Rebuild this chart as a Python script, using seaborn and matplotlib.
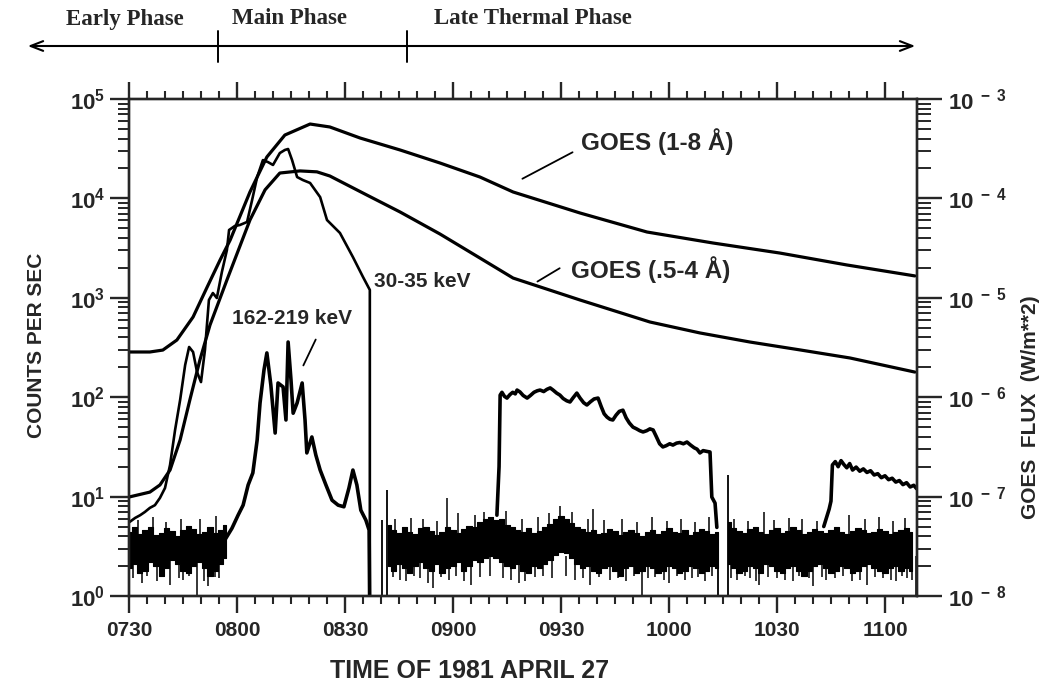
import numpy as np
import matplotlib
matplotlib.use("Agg")
import matplotlib.pyplot as plt
from matplotlib.lines import Line2D
from matplotlib.ticker import FixedLocator, FixedFormatter, NullFormatter
import seaborn as sns

# ---------------- data (time = minutes after 07:30 UT, 1981 April 27) ----------------
tick_minutes = [0, 30, 60, 90, 120, 150, 180, 210]
tick_labels = ["0730", "0800", "0830", "0900", "0930", "1000", "1030", "1100"]

# GOES 1-8 A flux (W/m^2)
goes_long_t = [0, 5.8, 9.4, 13.3, 17.8, 21.7, 25.3, 28.1, 33.6, 38.3, 43.3, 50.3, 55.8,
               64.2, 75.3, 86.4, 97.5, 106.7, 125.3, 143.9, 162.2, 180.8, 199.4, 218.3]
goes_long = [2.85e-6, 2.85e-6, 2.98e-6, 3.76e-6, 6.41e-6, 1.28e-5, 2.40e-5, 3.81e-5, 1.16e-4,
             2.61e-4, 4.34e-4, 5.6e-4, 5.23e-4, 4.05e-4, 3.07e-4, 2.27e-4, 1.64e-4, 1.16e-4,
             7.13e-5, 4.59e-5, 3.56e-5, 2.82e-5, 2.14e-5, 1.66e-5]

# GOES .5-4 A flux (W/m^2)
goes_short_t = [0, 5.8, 8.6, 11.4, 14.2, 16.9, 19.7, 22.5, 27.2, 33.6, 37.8, 41.9, 47.5, 52.2,
                55.8, 66.1, 75.3, 86.4, 97.5, 106.7, 125.3, 144.7, 158.6, 172.5, 186.4, 200.3, 218.3]
goes_short = [9.9e-8, 1.11e-7, 1.31e-7, 1.85e-7, 3.71e-7, 9.37e-7, 2.37e-6, 5.32e-6, 1.51e-5,
              6.06e-5, 1.22e-4, 1.80e-4, 1.89e-4, 1.85e-4, 1.68e-4, 1.08e-4, 7.30e-5, 4.38e-5,
              2.51e-5, 1.58e-5, 9.50e-6, 5.71e-6, 4.43e-6, 3.59e-6, 2.99e-6, 2.48e-6, 1.79e-6]

# 30-35 keV counts/s, impulsive phase (ends in a data gap)
hxr30_a_t = [0, 1.7, 3.1, 4.4, 5.8, 7.2, 8.6, 10.0, 11.4, 12.8, 14.2, 15.6, 16.7, 17.8, 18.9,
             20.0, 21.1, 22.2, 23.3, 24.4, 25.8, 27.2, 27.8, 29.4, 30.8, 32.8, 34.2, 35.6, 37.2,
             38.6, 40.0, 41.9, 43.3, 44.2, 45.3, 46.7, 48.3, 50.3, 53.1, 55.0, 58.6, 62.2, 65.0,
             66.9, 66.9]
hxr30_a = [5.5, 6.1, 6.5, 7.0, 7.7, 8.2, 9.7, 12.2, 20.8, 46.8, 93.7, 211, 320, 285, 179,
           142, 299, 950, 1117, 995, 1818, 3027, 4810, 5280, 5400, 5790, 9640, 16400, 24300,
           23200, 21700, 28600, 30700, 31400, 24300, 16400, 15300, 14300, 10300, 6060, 4490,
           2570, 1620, 1200, 0.5]

# 30-35 keV counts/s after 09:12
hxr30_b_t = [102.2, 102.8, 103.1, 103.6, 104.3, 105.0, 105.8, 106.6, 107.3, 107.8, 108.6, 109.5,
             110.6, 111.5, 112.5, 113.4, 114.2, 115.2, 116.1, 117.0, 117.8, 118.8, 119.7, 120.6,
             121.6, 122.5, 123.4, 124.4, 125.3, 126.3, 127.2, 128.2, 129.2, 130.3, 131.2, 132.0,
             132.8, 133.6, 134.4, 135.3, 136.2, 137.2, 138.1, 139.0, 140.0, 141.0, 141.9, 142.8,
             143.8, 144.7, 145.6, 146.5, 147.4, 148.3, 149.2, 150.2, 151.1, 152.1, 153.0, 154.0,
             155.0, 156.0, 157.0, 157.8, 158.6, 159.5, 160.5, 161.4, 161.9, 162.8, 163.3]
hxr30_b = [6.5, 20, 105, 112, 102, 98, 106, 112, 108, 118, 113, 104, 98, 104, 112, 116, 118,
           114, 120, 124, 118, 110, 105, 97, 92, 89.5, 99, 110, 98, 88, 83.5, 90, 96, 98, 80,
           68, 63, 60, 59, 66, 72, 74, 62, 55, 50, 48, 46, 44.7, 46, 48, 46.8, 40, 34, 31.6,
           32.5, 34, 33, 34.5, 35, 34, 35.4, 33, 31, 30, 27.5, 29, 28.5, 28.1, 9.9, 8.6, 4.9]

# 30-35 keV counts/s after 10:45
hxr30_c_t = [193.0, 194.5, 195.0, 195.4, 196.2, 197.0, 197.8, 198.6, 199.4, 200.2, 201.0, 202.0,
             203.0, 204.0, 205.0, 206.0, 207.0, 208.0, 209.0, 210.0, 211.0, 212.0, 213.0, 214.0,
             215.0, 216.0, 217.0, 218.0, 218.8]
hxr30_c = [5.0, 7.5, 9.0, 20.8, 22.5, 20.0, 23.0, 21.0, 19.5, 21.5, 18.5, 19.8, 18.0, 19.0,
           17.5, 18.2, 16.5, 17.0, 15.5, 16.2, 14.8, 15.3, 14.0, 14.5, 13.2, 13.8, 12.5, 13.0, 12.0]

# 162-219 keV counts/s, impulsive phase
hxr162_t = [26.7, 28.6, 30.3, 31.7, 33.1, 34.4, 35.6, 36.4, 37.5, 38.3, 39.4, 40.6, 41.4, 42.8,
            43.6, 44.2, 45.0, 45.6, 46.7, 48.1, 48.9, 49.4, 50.8, 51.9, 53.1, 54.7, 56.4, 58.1,
            59.7, 61.1, 62.2, 63.3, 64.4, 65.8, 66.7, 66.9]
hxr162 = [3.7, 4.8, 6.5, 8.2, 13.1, 17.3, 37.1, 87.5, 188, 279, 133, 43.6, 139, 127, 59, 359,
          149, 69, 87.5, 139, 59, 27.5, 39.8, 26.2, 18.5, 13.1, 9.2, 8.2, 7.9, 12.2, 18.5, 13.1,
          7.3, 5.8, 4.6, 0.5]

# background noise core envelopes (counts/s), sampled every 1.5 min
bg_step = 1.5
bgA_start = 0.0
bgA_hi = [4.4, 4.9, 4.2, 4.6, 5.0, 4.1, 4.3, 4.8, 4.5, 4.0, 4.6, 5.1, 4.7, 4.2, 4.4, 4.9, 4.3, 4.6, 5.2]
bgA_lo = [1.9, 2.1, 1.7, 1.8, 2.2, 2.0, 1.6, 1.9, 2.3, 2.1, 1.8, 1.7, 2.0, 2.2, 1.9, 1.6, 1.8, 2.1, 2.4]
bgB_start = 72.0
bgB_hi = [5.2, 4.6, 4.3, 4.9, 4.4, 4.2, 4.8, 5.0, 4.5, 4.1,
          4.4, 4.9, 4.6, 4.3, 4.7, 5.1, 5.0, 5.5, 5.9, 6.3,
          5.8, 6.0, 5.2, 4.9, 4.6, 4.4, 4.8, 4.3, 4.5, 4.9,
          5.3, 5.9, 6.4, 6.0, 5.4, 4.9, 4.7, 4.4, 4.6, 4.2,
          4.3, 4.7, 4.5, 4.1, 4.4, 4.6, 4.3, 4.0, 4.4, 4.6,
          4.2, 4.5, 4.8, 4.4, 4.3, 4.6, 4.1, 4.4, 4.7, 4.5,
          4.2, 4.4]
bgB_lo = [2.0, 1.8, 2.1, 1.9, 1.7, 2.0, 2.2, 1.9, 1.8, 2.1,
          1.7, 1.9, 2.0, 2.2, 1.8, 2.0, 2.3, 2.2, 2.4, 2.5,
          2.4, 2.2, 2.0, 1.9, 2.1, 1.8, 1.7, 2.0, 1.9, 2.1,
          2.3, 2.6, 2.8, 2.7, 2.4, 2.1, 1.9, 2.0, 1.8, 1.7,
          1.9, 2.0, 1.8, 1.6, 1.9, 2.0, 1.7, 1.8, 2.0, 1.9,
          1.7, 1.8, 2.0, 1.9, 1.7, 1.8, 2.0, 1.9, 1.7, 1.8,
          2.0, 1.9]
bgC_start = 166.5
bgC_hi = [5.6, 4.8, 4.5, 4.3, 4.7, 4.9, 4.4, 4.2, 4.6, 4.8,
          4.3, 4.5, 4.9, 4.6, 4.2, 4.4, 4.7, 4.5, 4.3, 4.6,
          4.9, 4.4, 4.2, 4.5, 4.8, 4.6, 4.3, 4.4, 4.7, 4.5,
          4.2, 4.4, 4.6, 4.8, 4.4]
bgC_lo = [2.1, 1.9, 1.7, 1.8, 2.0, 1.9, 1.7, 2.1, 2.0, 1.8,
          1.7, 1.9, 2.0, 1.8, 1.6, 1.8, 2.0, 2.1, 1.9, 1.7,
          1.8, 2.0, 1.9, 1.7, 1.8, 2.0, 2.1, 1.9, 1.8, 1.7,
          1.9, 2.0, 1.8, 1.9, 1.8]

# isolated downward noise spikes (time, counts/s)
spike_dn_t = [1.2, 3.5, 5.1, 7.8, 9.5, 11.3, 13.9, 15.0, 16.6, 18.9, 20.7, 22.0, 23.8, 25.0,
              73.2, 75.4, 77.0, 79.1, 80.9, 83.0, 84.4, 86.6, 89.0, 90.7, 93.1, 95.0, 97.4,
              100.2, 103.9, 106.0, 108.3, 110.0, 112.7, 115.1, 117.6, 121.3, 124.0, 126.0,
              128.0, 130.6, 133.5, 135.8, 138.2, 140.4, 142.5, 144.1, 146.0, 148.7, 150.0,
              152.2, 154.5, 156.3, 158.0, 160.1, 162.0,
              167.3, 169.0, 171.2, 172.5, 174.3, 175.0, 177.6, 180.0, 182.3, 184.5, 186.2,
              188.8, 190.0, 192.6, 193.5, 196.0, 198.4, 200.9, 203.0, 205.0, 207.3, 209.5,
              211.6, 213.0, 214.8, 216.0, 217.4, 218.5]
spike_dn_v = [1.5, 1.35, 1.6, 1.4, 1.55, 1.3, 1.5, 1.45, 1.6, 0.6, 1.4, 1.25, 1.55, 1.5,
              1.55, 1.45, 1.4, 1.6, 1.5, 1.35, 1.2, 1.55, 1.45, 1.6, 1.4, 1.3, 1.55,
              1.6, 1.5, 1.45, 1.35, 1.4, 1.55, 1.6, 1.5, 1.6, 1.45, 1.5,
              1.3, 1.55, 1.45, 1.5, 1.4, 1.6, 0.9, 1.5, 1.55, 1.45, 1.35,
              1.6, 1.45, 1.5, 1.55, 1.4, 1.6,
              1.5, 1.45, 1.6, 1.5, 1.4, 1.3, 1.55, 1.5, 1.45, 1.4, 1.6,
              1.5, 1.25, 1.55, 1.45, 1.5, 1.6, 1.4, 1.45, 1.3, 1.55, 1.5,
              1.45, 1.4, 1.6, 1.5, 1.45, 0.9]
# isolated upward noise spikes (time, counts/s)
spike_up_t = [2.4, 6.6, 10.4, 14.4, 19.8, 24.3,
              74.0, 78.3, 81.8, 85.6, 88.3, 91.4, 96.2, 98.6, 104.8, 109.1, 113.5, 116.8,
              119.8, 123.1, 127.4, 129.0, 131.9, 137.0, 141.2, 145.3, 149.4, 153.3, 157.2, 161.0,
              168.2, 172.0, 176.5, 179.1, 183.3, 187.0, 191.2, 200.0, 204.4, 208.4, 212.2, 215.7]
spike_up_v = [5.8, 6.2, 5.6, 6.0, 5.9, 6.4,
              5.9, 6.1, 6.0, 5.7, 9.7, 6.8, 6.5, 7.0, 7.2, 6.0, 6.2, 6.8,
              8.0, 7.0, 6.0, 7.5, 5.8, 6.0, 5.6, 6.2, 5.7, 6.0, 5.6, 6.3,
              6.0, 5.7, 7.0, 5.8, 6.1, 6.0, 5.7, 6.5, 5.9, 6.2, 5.7, 6.1]
# data-gap edges (time, counts/s reached from the bottom)
gap_t = [70.3, 71.7, 163.6, 166.4]
gap_v = [5.8, 11.7, 3.0, 16.5]

# ---------------- figure ----------------
sns.set_style("ticks")
plt.rcParams["font.family"] = ["Liberation Sans", "DejaVu Sans"]
plt.rcParams["font.weight"] = "bold"
plt.rcParams["mathtext.fontset"] = "custom"
plt.rcParams["mathtext.rm"] = "Liberation Sans:bold"
plt.rcParams["mathtext.bf"] = "Liberation Sans:bold"
plt.rcParams["mathtext.it"] = "Liberation Sans:bold"
plt.rcParams["axes.linewidth"] = 1.7

W, H = 1042, 682
fig = plt.figure(figsize=(W / 100, H / 100), dpi=100)
L, R, T, B = 129, 917, 99, 596
ax = fig.add_axes([L / W, 1 - B / H, (R - L) / W, (B - T) / H])
ax2 = ax.twinx()

ax.set_yscale("log")
ax.set_ylim(1, 1e5)
ax.set_xlim(0, 218.9)
ax2.set_yscale("log")
ax2.set_ylim(1e-8, 1e-3)

# background noise bands (dense noisy traces)
for start, lo, hi in [(bgA_start, bgA_lo, bgA_hi), (bgB_start, bgB_lo, bgB_hi), (bgC_start, bgC_lo, bgC_hi)]:
    tt = start + bg_step * np.arange(len(hi))
    ax.fill_between(tt, lo, hi, step="mid", color="black", linewidth=0.8, edgecolor="black")
ax.vlines(spike_dn_t, 2.5, spike_dn_v, colors="black", linewidth=1.1)
ax.vlines(spike_up_t, 3.5, spike_up_v, colors="black", linewidth=1.1)
ax.vlines(gap_t, 0.5, gap_v, colors="black", linewidth=1.3)

sns.lineplot(x=hxr162_t, y=hxr162, ax=ax, color="black", linewidth=2.6, sort=False, estimator=None)
sns.lineplot(x=hxr30_a_t, y=hxr30_a, ax=ax, color="black", linewidth=1.9, sort=False, estimator=None)
sns.lineplot(x=hxr30_b_t, y=hxr30_b, ax=ax, color="black", linewidth=2.6, sort=False, estimator=None)
sns.lineplot(x=hxr30_c_t, y=hxr30_c, ax=ax, color="black", linewidth=2.6, sort=False, estimator=None)
sns.lineplot(x=goes_long_t, y=goes_long, ax=ax2, color="black", linewidth=2.3, sort=False, estimator=None)
sns.lineplot(x=goes_short_t, y=goes_short, ax=ax2, color="black", linewidth=2.3, sort=False, estimator=None)

# x axis ticks (bottom and top, outward)
ax.xaxis.set_major_locator(FixedLocator(tick_minutes))
ax.xaxis.set_major_formatter(FixedFormatter(tick_labels))
ax.xaxis.set_minor_locator(FixedLocator(list(range(0, 219, 5))))
ax.xaxis.set_ticks_position("both")
ax.tick_params(axis="x", which="major", direction="out", length=12, width=1.7, labelsize=15, pad=6)
ax.tick_params(axis="x", which="minor", direction="out", length=6, width=1.5)
ax.set_xlabel("")

# left y axis
dec_left = [1, 10, 100, 1e3, 1e4, 1e5]
ax.yaxis.set_major_locator(FixedLocator(dec_left))
ax.yaxis.set_major_formatter(FixedFormatter([r"$10^{%d}$" % i for i in range(6)]))
minl = [m * 10 ** e for e in range(0, 5) for m in range(2, 10)]
ax.yaxis.set_minor_locator(FixedLocator(minl))
ax.yaxis.set_minor_formatter(NullFormatter())
ax.tick_params(axis="y", which="major", direction="out", length=14, width=1.7, labelsize=16, pad=3)
ax.tick_params(axis="y", which="minor", direction="out", length=8, width=1.4)
ax.set_ylabel("")

# right y axis
dec_right = [1e-8, 1e-7, 1e-6, 1e-5, 1e-4, 1e-3]
ax2.yaxis.set_major_locator(FixedLocator(dec_right))
ax2.yaxis.set_major_formatter(FixedFormatter([r"$10^{\ -\ %d}$" % i for i in range(8, 2, -1)]))
minr = [m * 10 ** e for e in range(-8, -3) for m in range(2, 10)]
ax2.yaxis.set_minor_locator(FixedLocator(minr))
ax2.yaxis.set_minor_formatter(NullFormatter())
ax2.tick_params(axis="y", which="major", direction="out", length=18, width=1.7, labelsize=16, pad=4)
ax2.tick_params(axis="y", which="minor", direction="out", length=10, width=1.4)
ax2.set_ylabel("")

# curve labels and pointers
ax.text(146.7, 36900, "GOES (1-8 Å)", fontsize=17.5, fontweight="bold", ha="center", va="center")
ax.annotate("", xy=(108.6, 15300), xytext=(123.9, 30000),
            arrowprops=dict(arrowstyle="-", lw=1.3, color="black"))
ax.text(145.0, 1905, "GOES (.5-4 Å)", fontsize=17.5, fontweight="bold", ha="center", va="center")
ax.annotate("", xy=(112.8, 1410), xytext=(120.3, 2050),
            arrowprops=dict(arrowstyle="-", lw=1.3, color="black"))
ax.text(81.4, 1443, "30-35 keV", fontsize=15, fontweight="bold", ha="center", va="center")
ax.text(45.3, 626, "162-219 keV", fontsize=15, fontweight="bold", ha="center", va="center")
ax.annotate("", xy=(48.1, 197), xytext=(52.2, 403),
            arrowprops=dict(arrowstyle="-", lw=1.3, color="black"))

# axis titles
fig.text(470 / W, 1 - 671 / H, "TIME OF 1981 APRIL 27", fontsize=18, fontweight="bold",
         ha="center", va="center")
fig.text(37 / W, 1 - 345 / H, "COUNTS PER SEC", fontsize=15, fontweight="bold",
         ha="center", va="center", rotation=90)
fig.text(1030 / W, 1 - 407 / H, "GOES  FLUX  (W/m**2)", fontsize=15, fontweight="bold",
         ha="center", va="center", rotation=90)

# phase banner above the plot
ya = 1 - 46 / H
ax.annotate("", xy=(918 / W, ya), xytext=(25 / W, ya), xycoords="figure fraction",
            textcoords="figure fraction", annotation_clip=False,
            arrowprops=dict(arrowstyle="<->,head_length=0.9,head_width=0.35", lw=1.5, color="black"))
for xd in (218, 407):
    fig.add_artist(Line2D([xd / W, xd / W], [1 - 31 / H, 1 - 62 / H], transform=fig.transFigure,
                          color="black", lw=1.4))
for xc, txt in [(125, "Early Phase"), (290, "Main Phase"), (533, "Late Thermal Phase")]:
    fig.text(xc / W, 1 - 19 / H, txt, fontsize=16.5, fontweight="bold", family="Liberation Serif",
             ha="center", va="center")

fig.savefig("out.png", dpi=100)
